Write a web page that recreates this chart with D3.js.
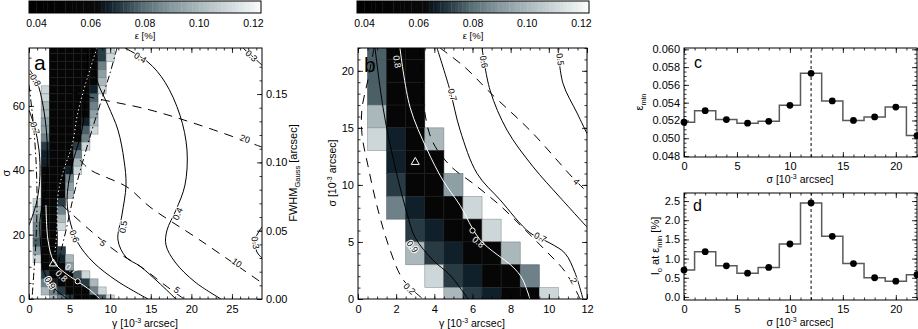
<!DOCTYPE html>
<html>
<head>
<meta charset="utf-8">
<script src="https://cdn.jsdelivr.net/npm/d3@7"></script>
<style>
  body { margin: 0; background: #fff; }
  text { font-family: "Liberation Sans", Arial, Helvetica, sans-serif; }
</style>
</head>
<body>
<svg id="fig" width="918" height="329"></svg>
<script>
// ---- data ----

// panels c and d: best fit per sigma
const SIGMA_PTS = [0, 2, 4, 6, 8, 10, 12, 14, 16, 18, 20, 22]
const EPS_MIN = [0.0518, 0.0531, 0.0521, 0.0517, 0.0519, 0.0537, 0.0573, 0.0542, 0.0520, 0.0524, 0.0535, 0.0503]
const I0_AT_EPS_MIN = [0.70, 1.18, 0.81, 0.62, 0.77, 1.38, 2.45, 1.58, 0.87, 0.50, 0.41, 0.58]
const SIGMA_BEST = 12

// colour bar
const EPS_RANGE = [0.0372, 0.1228]
const EPS_TICKS = [0.04, 0.06, 0.08, 0.10, 0.12]

// grey levels used in the maps (epsilon, %)
const CELL_EPS = { k: 0.052, n: 0.066, d: 0.071, m: 0.077, g: 0.084, h: 0.092, l: 0.100, v: 0.110 }

// panel a map: rows sigma 77.5 -> 0 (step 2.5), columns gamma 0..11
const A_ROWS = [
  '...kkkkkkdv.',
  '...kkkkkkdv.',
  '...kkkkkkg..',
  '...kkkkkkh..',
  '...kkkkkkl..',
  '..vkkkkknv..',
  '..vkkkkkm...',
  '..lkkkkkg...',
  '..lkkkkkh...',
  '..hkkkknl...',
  '..hkkkkmv...',
  '..gkkkkg....',
  '..dkkkdv....',
  '..nkkkg.....',
  '..nkkkl.....',
  '..kkknv.....',
  '..kkkg......',
  '..kkkh......',
  '..kkkl......',
  '.vkkd.......',
  '.lkkg.......',
  '.hkkl.......',
  '.gkkv.......',
  '.gkk........',
  '.mkk........',
  '.hkkd.......',
  '.vkknl......',
  '..kkkh......',
  '..dkkkmv....',
  '..gnkkkdl...',
  '..lgdkkkgv..',
  '...lgdkkkmv.',
]
// panel b map: rows sigma 22 -> 0 (step 2), columns gamma 0..11
const B_ROWS = [
  '.mkk........',
  '.mkk........',
  '.mkk........',
  '.lkk........',
  '.vnkl.......',
  '..nkk.......',
  '..dkkh......',
  '..gnkkv.....',
  '...dnkkv....',
  '...ldnkkl...',
  '....vdnkkg..',
  '.....ldnkkv.',
]

// panel a contours, [gamma, sigma]
const A_C03_TOP = [[26.35, 78], [27.46, 75.5], [28.7, 72.7]]
const A_C03_LOW = [[28.7, 22.4], [27.83, 18.3], [28.08, 14.6], [28.7, 12.7]]
const A_C04 = [[11.82, 78], [14.66, 73.6], [16.75, 67.4], [18.6, 57.1], [19.46, 46.3], [19.21, 35.4],
  [18.1, 27.6], [17.0, 21.4], [16.87, 16.8], [17.98, 11.5], [20.44, 5.3], [23.65, 0]]
const A_C05 = [[7.76, 78], [8.37, 68], [9.73, 60.2], [10.96, 52.5], [11.7, 43.2], [11.95, 35.4],
  [11.45, 26.1], [10.96, 18.3], [11.95, 13], [13.67, 10.2], [15.89, 5.3], [18.1, 0]]
const A_C06 = [[7.27, 78], [7.02, 65], [6.53, 52.5], [5.3, 41.6], [4.68, 30.7], [5.17, 23],
  [6.03, 17.4], [7.88, 11.5], [10.84, 5.6], [14.66, 0]]
const A_C08 = [[0.12, 71.1], [0.99, 67.4], [1.72, 60.2], [2.22, 49.4], [2.09, 35.4], [1.35, 24.5],
  [1.48, 15.8], [1.85, 8.4], [3.2, 3.1], [4.8, 0]]
const A_C07 = [[0, 58.7], [0.74, 53.1], [1.23, 46.3], [1.35, 38.5], [0.99, 30.7], [0.25, 24.5], [0, 23]]
const A_WHITE = [[2.09, 29.2], [2.34, 18.3], [3.08, 11.5], [4.43, 8.1], [5.91, 5.6], [7.51, 2.8], [8.74, 0]]
const A_WHITE_DOT = [[8.37, 78], [7.14, 68.3], [6.03, 58.1], [5.3, 47.8], [4.19, 39.4], [3.57, 32.3],
  [3.45, 21.7], [3.2, 14.6]]
const A_DASHDOT_1 = [[10.84, 78], [9.98, 70.2], [7.76, 52.5], [5.67, 33.9], [4.56, 21.4], [3.57, 10.6], [2.96, 0]]
const A_DASHDOT_2 = [[0, 66.5], [0.49, 55.6], [0.86, 43.2], [0.99, 30.7], [0.86, 18.3], [0.62, 9], [0.37, 0]]
const A_D20 = [[5.05, 64.3], [7.51, 62.7], [14.53, 59], [21.06, 54], [28.7, 47.2]]
const A_D10 = [[6.28, 43.2], [7.5, 40.2], [12.07, 34.8], [14.9, 28.6], [21.06, 18.3], [28.7, 5]]
const A_D5 = [[4.06, 29.2], [7.51, 21.4], [10.84, 14.6], [13.67, 10.2], [16.75, 4.3], [19.09, 0]]
const A_TRIANGLE = [3, 11]
const A_CIRCLE = [6, 5.5]

// panel b contours, [gamma, sigma]
const B_C09 = [[0.89, 22], [1.31, 16.8], [1.83, 12.4], [2.57, 7.5], [2.99, 5.4], [3.93, 3.4], [4.82, 2.1], [5.77, 0]]
const B_C08 = [[2.2, 22], [2.73, 16.8], [3.62, 13.1], [4.45, 10.4], [5.35, 8.2], [6.39, 5.2], [8.12, 2.8], [8.6, 1.8], [9.01, 0]]
const B_C07 = [[4.14, 22], [4.82, 18.3], [5.35, 14.8], [6.24, 11], [7.44, 8.7], [9.01, 5.8], [10.06, 4.9],
  [10.85, 4], [11.37, 2.3], [11.79, 0]]
const B_C06 = [[6.5, 22], [6.92, 18.3], [7.81, 14.8], [9.17, 11.6], [10.59, 8.9], [12, 6.3]]
const B_C05 = [[10.48, 22], [10.74, 18.9], [11.48, 16.3], [12, 14.5]]
const B_D4 = [[4.3, 22], [5.61, 20.3], [6.92, 18.1], [9.12, 14.6], [11.27, 10.6], [12, 9.4]]
const B_D2 = [[3.25, 22], [3.41, 17.4], [3.88, 13.9], [4.82, 11.7], [6.13, 10], [7.44, 8.2], [8.49, 6.5],
  [9.8, 4.3], [10.85, 2.4], [11.64, 0]]
const B_D02 = [[0.84, 22], [0.52, 19.2], [0.21, 16.7], [0.21, 14.4], [0.52, 11.7], [1.05, 7.8], [1.68, 4.3],
  [2.36, 1.7], [3.41, 0]]
const B_TRIANGLE = [3, 12]
const B_CIRCLE = [6, 6]

// ---- drawing ----
const FONT = '"Liberation Sans", Arial, Helvetica, sans-serif'
const svg = d3.select('#fig')

const epscolor = d3.scaleLinear()
  .domain([0.0372, 0.0627, 0.0655, 0.071, 0.08, 0.09, 0.10, 0.11, 0.1228])
  .range(['#000000', '#0a0a0a', '#0d1d27', '#283a43', '#5d7178', '#879aa0', '#aab8bc', '#cdd6d8', '#fafbfb'])
  .clamp(true)

const addaxis = (axis, transform, withtext) => {
  const a = svg.append('g').attr('transform', transform).call(axis)
  a.select('.domain').remove()
  a.selectAll('line').attr('stroke', '#000').attr('stroke-width', 0.8)
  a.selectAll('text').attr('fill', '#000').attr('font-size', 11).attr('font-family', FONT)
  if (!withtext) a.selectAll('text').remove()
  return a
}

const drawaxes = (x, y, o) => {
  /* IDL style frame: inward ticks on all four sides, labels left and bottom */
  const [xl, xr] = x.range(), [yb, yt] = y.range()
  addaxis(d3.axisBottom(x).tickValues(o.xmajor).tickSize(-5).tickPadding(o.xpad || 5).tickFormat(o.xfmt), `translate(0,${yb})`, true)
  addaxis(d3.axisBottom(x).tickValues(o.xminor).tickSize(-2.5).tickFormat(''), `translate(0,${yb})`)
  addaxis(d3.axisTop(x).tickValues(o.xmajor).tickSize(-5).tickFormat(''), `translate(0,${yt})`)
  addaxis(d3.axisTop(x).tickValues(o.xminor).tickSize(-2.5).tickFormat(''), `translate(0,${yt})`)
  addaxis(d3.axisLeft(y).tickValues(o.ymajor).tickSize(-5).tickPadding(4).tickFormat(o.yfmt), `translate(${xl},0)`, true)
  addaxis(d3.axisLeft(y).tickValues(o.yminor).tickSize(-2.5).tickFormat(''), `translate(${xl},0)`)
  if (!o.noright) {
    addaxis(d3.axisRight(y).tickValues(o.ymajor).tickSize(-5).tickFormat(''), `translate(${xr},0)`)
    addaxis(d3.axisRight(y).tickValues(o.yminor).tickSize(-2.5).tickFormat(''), `translate(${xr},0)`)
  }
  svg.append('rect').attr('x', xl).attr('y', yt).attr('width', xr - xl).attr('height', yb - yt)
    .attr('fill', 'none').attr('stroke', '#000').attr('stroke-width', 1)
}

const clipfor = (id, x, y) => {
  svg.append('clipPath').attr('id', id).append('rect')
    .attr('x', x.range()[0]).attr('y', y.range()[1])
    .attr('width', x.range()[1] - x.range()[0]).attr('height', y.range()[0] - y.range()[1])
  return svg.append('g').attr('clip-path', `url(#${id})`)
}

const drawmap = (g, x, y, rows, sigmas, dsig) => {
  const cells = []
  rows.forEach((row, i) => row.split('').forEach((c, j) => {
    if (c !== '.') cells.push({ gam: j, sig: sigmas[i], eps: CELL_EPS[c] })
  }))
  g.selectAll(null).data(cells).enter().append('rect')
    .attr('x', d => x(d.gam - 0.5))
    .attr('y', d => y(d.sig + dsig / 2))
    .attr('width', d => x(d.gam + 0.5) - x(d.gam - 0.5))
    .attr('height', d => y(d.sig - dsig / 2) - y(d.sig + dsig / 2))
    .attr('fill', d => epscolor(d.eps))
    .attr('stroke', d => d3.interpolateRgb(epscolor(d.eps), '#3c3c3c')(0.4))
    .attr('stroke-width', 0.6)
}

const drawline = (g, x, y, pts, stroke, dash, width) => {
  const line = d3.line().x(d => x(d[0])).y(d => y(d[1])).curve(d3.curveCatmullRom)
  g.append('path').attr('d', line(pts)).attr('fill', 'none')
    .attr('stroke', stroke).attr('stroke-width', width || 1)
    .attr('stroke-dasharray', dash || null)
}

const drawlabel = (g, x, y, pts, text, at, color) => {
  /* contour label, rotated along the nearest segment of its line */
  const px = x(at[0]), py = y(at[1])
  let best = 0, bestd = Infinity
  for (let i = 0; i < pts.length - 1; i++) {
    const ax = x(pts[i][0]), ay = y(pts[i][1]), bx = x(pts[i + 1][0]), by = y(pts[i + 1][1])
    const t = Math.max(0, Math.min(1, ((px - ax) * (bx - ax) + (py - ay) * (by - ay)) / ((bx - ax) ** 2 + (by - ay) ** 2)))
    const dd = (ax + t * (bx - ax) - px) ** 2 + (ay + t * (by - ay) - py) ** 2
    if (dd < bestd) { bestd = dd; best = i }
  }
  let ang = Math.atan2(y(pts[best + 1][1]) - y(pts[best][1]), x(pts[best + 1][0]) - x(pts[best][0])) * 180 / Math.PI
  if (ang > 90) ang -= 180
  if (ang < -90) ang += 180
  const white = color === '#fff'
  g.append('text').attr('transform', `translate(${px},${py}) rotate(${ang})`)
    .attr('text-anchor', 'middle').attr('dy', '0.35em')
    .attr('font-size', 9).attr('fill', color)
    .attr('stroke', white ? 'none' : '#fff').attr('stroke-width', 2)
    .attr('paint-order', 'stroke')
    .text(text)
}

const drawmarkers = (g, x, y, tri, circ) => {
  g.append('path').attr('d', d3.symbol(d3.symbolTriangle, 28)())
    .attr('transform', `translate(${x(tri[0])},${y(tri[1])})`)
    .attr('fill', 'none').attr('stroke', '#fff').attr('stroke-width', 1)
  g.append('circle').attr('cx', x(circ[0])).attr('cy', y(circ[1])).attr('r', 2.6)
    .attr('fill', '#000').attr('stroke', '#fff').attr('stroke-width', 1)
}

const drawcolorbar = (x0, x1) => {
  const cb = d3.scaleLinear().domain(EPS_RANGE).range([x0, x1])
  const n = 64
  const step = (EPS_RANGE[1] - EPS_RANGE[0]) / n
  const vals = d3.range(n).map(i => EPS_RANGE[0] + (i + 0.5) * step)
  svg.append('g').selectAll('rect').data(vals).enter().append('rect')
    .attr('x', d => cb(d - step / 2)).attr('y', 1)
    .attr('width', cb(EPS_RANGE[0] + step) - cb(EPS_RANGE[0]) + 0.4).attr('height', 12)
    .attr('fill', d => epscolor(d))
  svg.append('rect').attr('x', x0).attr('y', 1).attr('width', x1 - x0).attr('height', 12)
    .attr('fill', 'none').attr('stroke', '#000').attr('stroke-width', 1)
  svg.append('g').selectAll('text').data(EPS_TICKS).enter().append('text')
    .attr('x', d => cb(d)).attr('y', 27).attr('text-anchor', 'middle')
    .attr('font-size', 10.5).text(d3.format('.2f'))
  svg.append('text').attr('x', (x0 + x1) / 2).attr('y', 39).attr('text-anchor', 'middle')
    .attr('font-size', 9.5).text('ε [%]')
}

const unitlabel = (sel, name) => {
  sel.append('tspan').text(name + ' [10')
  sel.append('tspan').attr('font-size', 7).attr('dy', -4).text('-3')
  sel.append('tspan').attr('dy', 4).text(' arcsec]')
}

const panelletter = (xp, yp, t, size) => {
  svg.append('text').attr('x', xp).attr('y', yp).attr('font-size', size).text(t)
}

// ---- panel a ----
const xa = d3.scaleLinear().domain([0, 28.7]).range([29, 262])
const ya = d3.scaleLinear().domain([0, 78]).range([299, 48])
const fwhm = d3.scaleLinear().domain([0, 0.1837]).range([299, 48])
const ga = clipfor('clipa', xa, ya)
drawmap(ga, xa, ya, A_ROWS, d3.range(77.5, -1, -2.5), 2.5)
drawline(ga, xa, ya, A_C03_TOP, '#000')
drawline(ga, xa, ya, A_C03_LOW, '#000')
drawline(ga, xa, ya, A_C04, '#000')
drawline(ga, xa, ya, A_C05, '#000')
drawline(ga, xa, ya, A_C06, '#000')
drawline(ga, xa, ya, A_C07, '#000')
drawline(ga, xa, ya, A_C08, '#000')
drawline(ga, xa, ya, A_DASHDOT_1, '#000', '7,3,1.5,3')
drawline(ga, xa, ya, A_DASHDOT_2, '#000', '7,3,1.5,3')
drawline(ga, xa, ya, A_D20, '#000', '9,7')
drawline(ga, xa, ya, A_D10, '#000', '9,7')
drawline(ga, xa, ya, A_D5, '#000', '9,7')
drawline(ga, xa, ya, A_WHITE, '#fff')
drawline(ga, xa, ya, A_WHITE_DOT, '#fff', '1.2,2.8')
drawlabel(ga, xa, ya, A_C03_TOP, '0.3', [27.4, 75.6], '#000')
drawlabel(ga, xa, ya, A_C03_LOW, '0.3', [27.9, 17.5], '#000')
drawlabel(ga, xa, ya, A_C04, '0.4', [13.7, 75], '#000')
drawlabel(ga, xa, ya, A_C04, '0.4', [18.3, 26.5], '#000')
drawlabel(ga, xa, ya, A_C05, '0.5', [11.6, 22.4], '#000')
drawlabel(ga, xa, ya, A_C06, '0.6', [5.6, 19.5], '#000')
drawlabel(ga, xa, ya, A_C07, '0.7', [0.74, 53.1], '#000')
drawlabel(ga, xa, ya, A_C08, '0.8', [0.8, 68], '#000')
drawlabel(ga, xa, ya, A_C08, '0.9', [2.6, 5], '#000')
drawlabel(ga, xa, ya, A_WHITE, '0.7', [5.2, 9.4], '#fff')
drawlabel(ga, xa, ya, A_WHITE, '0.8', [4.0, 7.2], '#fff')
drawlabel(ga, xa, ya, A_D20, '20', [26.6, 49.8], '#000')
drawlabel(ga, xa, ya, A_D10, '10', [25.6, 11.3], '#000')
drawlabel(ga, xa, ya, A_D5, '5', [9.1, 17.4], '#000')
drawlabel(ga, xa, ya, A_D5, '5', [18.2, 2.8], '#000')
drawmarkers(ga, xa, ya, A_TRIANGLE, A_CIRCLE)
drawaxes(xa, ya, {
  xmajor: [0, 5, 10, 15, 20, 25], xminor: d3.range(0, 29, 1), xfmt: d3.format('d'), xpad: 6,
  ymajor: [0, 20, 40, 60], yminor: d3.range(0, 78, 5), yfmt: d3.format('d'), noright: true
})
addaxis(d3.axisRight(fwhm).tickValues([0, 0.05, 0.10, 0.15]).tickSize(-5).tickPadding(4).tickFormat(d3.format('.2f')), 'translate(262,0)', true)
addaxis(d3.axisRight(fwhm).tickValues(d3.range(0, 0.18, 0.01)).tickSize(-2.5).tickFormat(''), 'translate(262,0)')
panelletter(34, 70, 'a', 21)
drawcolorbar(29, 261)
unitlabel(svg.append('text').attr('x', 145).attr('y', 327).attr('text-anchor', 'middle').attr('font-size', 10.5), 'γ')
svg.append('text').attr('transform', 'translate(10,173) rotate(-90)').attr('text-anchor', 'middle')
  .attr('font-size', 11).text('σ')
{
  const t = svg.append('text').attr('transform', 'translate(297,173) rotate(-90)')
    .attr('text-anchor', 'middle').attr('font-size', 11)
  t.append('tspan').text('FWHM')
  t.append('tspan').attr('font-size', 7.5).attr('dy', 2.5).text('Gauss')
  t.append('tspan').attr('dy', -2.5).text(' [arcsec]')
}

// ---- panel b ----
const xb = d3.scaleLinear().domain([0, 12]).range([358, 587])
const yb = d3.scaleLinear().domain([0, 22]).range([299, 48])
const gb = clipfor('clipb', xb, yb)
drawmap(gb, xb, yb, B_ROWS, d3.range(22, -1, -2), 2)
drawline(gb, xb, yb, B_C09, '#000')
drawline(gb, xb, yb, B_C07, '#000')
drawline(gb, xb, yb, B_C06, '#000')
drawline(gb, xb, yb, B_C05, '#000')
drawline(gb, xb, yb, B_D4, '#000', '9,7')
drawline(gb, xb, yb, B_D2, '#000', '9,7')
drawline(gb, xb, yb, B_D02, '#000', '9,7')
drawline(gb, xb, yb, B_C08, '#fff')
drawlabel(gb, xb, yb, B_C09, '0.9', [2.85, 4.6], '#000')
drawlabel(gb, xb, yb, B_C08, '0.8', [2.05, 20.8], '#fff')
drawlabel(gb, xb, yb, B_C08, '0.8', [6.3, 5.0], '#fff')
drawlabel(gb, xb, yb, B_C07, '0.7', [4.95, 17.9], '#000')
drawlabel(gb, xb, yb, B_C07, '0.7', [9.55, 5.4], '#000')
drawlabel(gb, xb, yb, B_C06, '0.6', [6.6, 20.8], '#000')
drawlabel(gb, xb, yb, B_C05, '0.5', [10.6, 21.0], '#000')
drawlabel(gb, xb, yb, B_D4, '4', [11.45, 10.3], '#000')
drawlabel(gb, xb, yb, B_D2, '2', [11.3, 1.6], '#000')
drawlabel(gb, xb, yb, B_D02, '0.2', [2.7, 0.9], '#000')
drawmarkers(gb, xb, yb, B_TRIANGLE, B_CIRCLE)
drawaxes(xb, yb, {
  xmajor: [0, 2, 4, 6, 8, 10, 12], xminor: d3.range(0, 12.01, 0.5), xfmt: d3.format('d'), xpad: 6,
  ymajor: [0, 5, 10, 15, 20], yminor: d3.range(0, 23, 1), yfmt: d3.format('d')
})
panelletter(364, 72, 'b', 21)
drawcolorbar(357, 589)
unitlabel(svg.append('text').attr('x', 472).attr('y', 327).attr('text-anchor', 'middle').attr('font-size', 10.5), 'γ')
unitlabel(svg.append('text').attr('transform', 'translate(336,173) rotate(-90)').attr('text-anchor', 'middle').attr('font-size', 10.5), 'σ')

// ---- panels c and d ----
const stepplot = (x, y, vals) => {
  const pts = SIGMA_PTS.map((s, i) => [s, vals[i]])
  svg.append('path').attr('d', d3.line().x(d => x(d[0])).y(d => y(d[1])).curve(d3.curveStep)(pts))
    .attr('fill', 'none').attr('stroke', '#5a5a5a').attr('stroke-width', 1.5)
  svg.append('line').attr('x1', x(SIGMA_BEST)).attr('x2', x(SIGMA_BEST))
    .attr('y1', y.range()[0]).attr('y2', y.range()[1])
    .attr('stroke', '#000').attr('stroke-width', 1).attr('stroke-dasharray', '3,2.5')
  svg.append('g').selectAll('circle').data(pts).enter().append('circle')
    .attr('cx', d => x(d[0])).attr('cy', d => y(d[1])).attr('r', 3.4).attr('fill', '#000')
}

const xc = d3.scaleLinear().domain([0, 22]).range([684, 917])
const yc = d3.scaleLinear().domain([0.04789, 0.06015]).range([157, 48])
stepplot(xc, yc, EPS_MIN)
drawaxes(xc, yc, {
  xmajor: [0, 5, 10, 15, 20], xminor: d3.range(0, 23, 1), xfmt: d3.format('d'),
  ymajor: d3.range(0.048, 0.0601, 0.002), yminor: d3.range(0.048, 0.0601, 0.0005), yfmt: d3.format('.3f')
})
panelletter(694, 68, 'c', 16)
unitlabel(svg.append('text').attr('x', 800).attr('y', 183).attr('text-anchor', 'middle').attr('font-size', 10.5), 'σ')
{
  const t = svg.append('text').attr('transform', 'translate(643,102) rotate(-90)')
    .attr('text-anchor', 'middle').attr('font-size', 11)
  t.append('tspan').text('ε')
  t.append('tspan').attr('font-size', 7.5).attr('dy', 2.5).text('min')
}

const xd = d3.scaleLinear().domain([0, 22]).range([684, 917])
const yd = d3.scaleLinear().domain([-0.08, 2.71]).range([300, 193])
stepplot(xd, yd, I0_AT_EPS_MIN)
drawaxes(xd, yd, {
  xmajor: [0, 5, 10, 15, 20], xminor: d3.range(0, 23, 1), xfmt: d3.format('d'),
  ymajor: [0, 0.5, 1, 1.5, 2, 2.5], yminor: d3.range(0, 2.71, 0.1), yfmt: d3.format('.1f')
})
panelletter(693, 211, 'd', 16)
unitlabel(svg.append('text').attr('x', 800).attr('y', 326).attr('text-anchor', 'middle').attr('font-size', 10.5), 'σ')
{
  const t = svg.append('text').attr('transform', 'translate(659,246) rotate(-90)')
    .attr('text-anchor', 'middle').attr('font-size', 11)
  t.append('tspan').text('I')
  t.append('tspan').attr('font-size', 7.5).attr('dy', 2.5).text('o')
  t.append('tspan').attr('dy', -2.5).text(' at ε')
  t.append('tspan').attr('font-size', 7.5).attr('dy', 2.5).text('min')
  t.append('tspan').attr('dy', -2.5).text(' [%]')
}
</script>
</body>
</html>
